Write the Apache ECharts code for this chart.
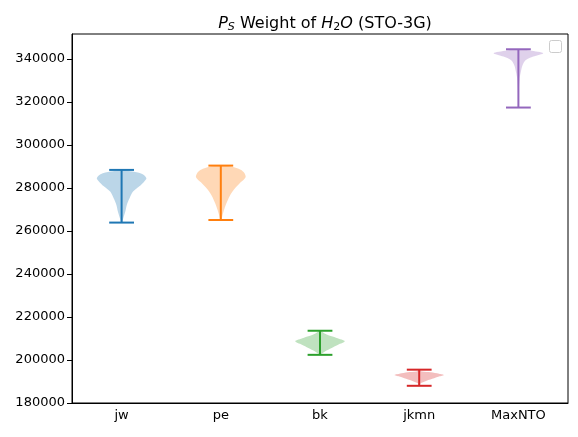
<!DOCTYPE html>
<html>
<head>
<meta charset="utf-8">
<script src="https://cdn.jsdelivr.net/npm/echarts@6/dist/echarts.min.js"></script>
<style>
    html, body { margin: 0; padding: 0; background: #fff; }
    #chart { width: 578px; height: 437px; }
</style>
</head>
<body>
<div id="chart"></div>
<script>
// 类别与颜色
const categories = ['jw', 'pe', 'bk', 'jkmn', 'MaxNTO'];
const colors = ['#1f77b4', '#ff7f0e', '#2ca02c', '#d62728', '#9467bd'];

// 每个小提琴的极值（须线端点）
const minValues = [263900, 265100, 202400, 188000, 317400];
const maxValues = [288400, 290400, 213600, 195500, 344500];

// 密度轮廓：[数值, 相对半宽]，从上到下读图估计
const jwProfile = [
    [288400, 0.05], [287600, 0.45], [286400, 0.85], [284500, 1.0], [282800, 0.9],
    [280900, 0.73], [278300, 0.46], [275200, 0.32], [272100, 0.21], [269000, 0.15],
    [266000, 0.07], [263900, 0.02]
];
const peProfile = [
    [290400, 0.05], [289900, 0.45], [288500, 0.8], [287000, 0.95], [285000, 1.0],
    [282600, 0.8], [279400, 0.54], [276300, 0.36], [273200, 0.24], [270100, 0.14],
    [267000, 0.06], [265100, 0.02]
];
const bkProfile = [
    [213600, 0.03], [213000, 0.1], [211800, 0.27], [210200, 0.67], [208700, 1.0],
    [207100, 0.73], [205600, 0.47], [204000, 0.2], [202800, 0.05], [202400, 0.02]
];
const jkmnProfile = [
    [195500, 0.02], [194600, 0.1], [194300, 0.47], [193600, 0.8], [193000, 1.0],
    [192300, 0.8], [191500, 0.6], [190400, 0.3], [189600, 0.15], [189100, 0.05],
    [188000, 0.02]
];
const maxntoProfile = [
    [344500, 0.1], [343900, 0.47], [342650, 1.0], [341100, 0.6], [339500, 0.3],
    [337200, 0.17], [334100, 0.1], [331000, 0.05], [325600, 0.02], [317400, 0.01]
];
const profiles = [jwProfile, peProfile, bkProfile, jkmnProfile, maxntoProfile];

// y轴范围
const yMin = 180000;
const yMax = 351600;
const yStep = 20000;

const chart = echarts.init(document.getElementById('chart'));

function renderViolin(params, api) {
    const idx = api.value(0);
    const color = colors[idx];
    const band = api.size([1, 0])[0];
    const halfW = band * 0.25;
    const capW = band * 0.125;
    const prof = profiles[idx];
    const right = [];
    const left = [];
    prof.forEach(p => {
        const pt = api.coord([idx, p[0]]);
        right.push([pt[0] + halfW * p[1], pt[1]]);
        left.unshift([pt[0] - halfW * p[1], pt[1]]);
    });
    const top = api.coord([idx, api.value(2)]);
    const bot = api.coord([idx, api.value(1)]);
    const lineStyle = { stroke: color, lineWidth: 2 };
    return {
        type: 'group',
        children: [
            {
                type: 'polygon',
                shape: { points: right.concat(left), smooth: 0.3 },
                style: { fill: color, opacity: 0.3 }
            },
            { type: 'line', shape: { x1: top[0], y1: top[1], x2: bot[0], y2: bot[1] }, style: lineStyle },
            { type: 'line', shape: { x1: top[0] - capW, y1: top[1], x2: top[0] + capW, y2: top[1] }, style: lineStyle },
            { type: 'line', shape: { x1: bot[0] - capW, y1: bot[1], x2: bot[0] + capW, y2: bot[1] }, style: lineStyle }
        ]
    };
}

const option = {
    animation: false,
    textStyle: { fontFamily: 'DejaVu Sans' },
    title: {
        text: '{i|P}{si|S} Weight of {i|H}{sub|2}{i|O} (STO-3G)',
        left: 320,
        top: 9,
        textAlign: 'center',
        textStyle: {
            fontFamily: 'DejaVu Sans',
            fontSize: 16,
            fontWeight: 'normal',
            color: '#000',
            rich: {
                i: { fontFamily: 'DejaVu Sans', fontSize: 16, fontStyle: 'italic', color: '#000' },
                si: { fontFamily: 'DejaVu Sans', fontSize: 11, fontStyle: 'italic', color: '#000', padding: [8, 0, 0, 0] },
                sub: { fontFamily: 'DejaVu Sans', fontSize: 11, color: '#000', padding: [8, 0, 0, 0] }
            }
        }
    },
    grid: {
        left: 72, right: 10, top: 34, bottom: 34,
        show: true, borderColor: '#000', borderWidth: 1
    },
    xAxis: {
        type: 'category',
        data: categories,
        axisLine: { lineStyle: { color: '#000' } },
        axisTick: { alignWithLabel: true, length: 5, lineStyle: { color: '#000' } },
        axisLabel: { color: '#000', fontSize: 13, margin: 6, fontFamily: 'DejaVu Sans' },
        splitLine: { show: false }
    },
    yAxis: {
        type: 'value',
        min: yMin,
        max: yMax,
        interval: yStep,
        axisLine: { show: true, lineStyle: { color: '#000' } },
        axisTick: { show: true, length: 5, lineStyle: { color: '#000' } },
        axisLabel: {
            color: '#000', fontSize: 13, margin: 7, showMaxLabel: false,
            fontFamily: 'DejaVu Sans',
            formatter: v => String(v)
        },
        splitLine: { show: false }
    },
    graphic: [
        {
            type: 'rect',
            right: 16,
            top: 40,
            shape: { width: 12, height: 12, r: 2 },
            style: { fill: '#fff', stroke: '#cccccc', lineWidth: 1 }
        }
    ],
    series: [
        {
            type: 'custom',
            renderItem: renderViolin,
            encode: { x: 0, y: [1, 2] },
            data: categories.map((c, i) => [i, minValues[i], maxValues[i]])
        }
    ]
};

chart.setOption(option);
</script>
</body>
</html>
